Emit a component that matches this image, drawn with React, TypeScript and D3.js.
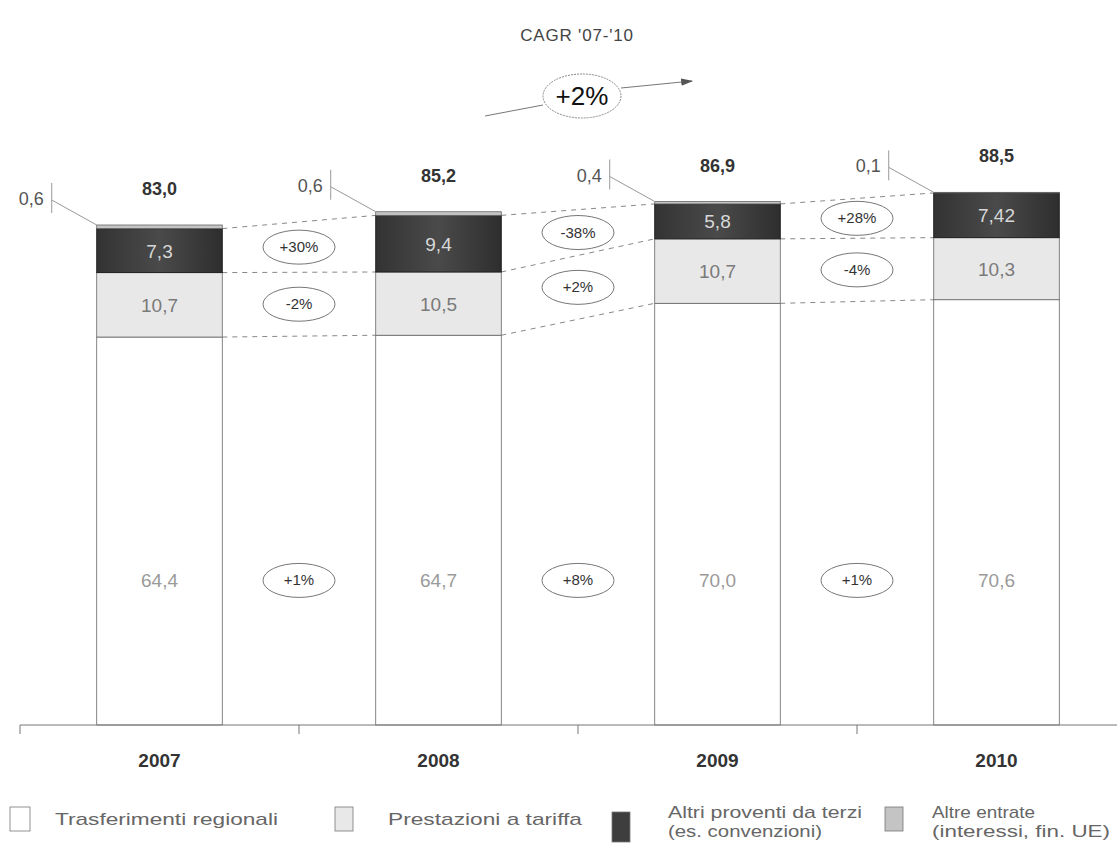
import * as d3 from 'd3'

// ─── Data ────────────────────────────────────────────────────────────────────

const years = ['2007', '2008', '2009', '2010']
const trasferimenti = [64.4, 64.7, 70.0, 70.6]
const prestazioni = [10.7, 10.5, 10.7, 10.3]
const altriProventi = [7.3, 9.4, 5.8, 7.42]
const altreEntrate = [0.6, 0.6, 0.4, 0.1]
const totals = ['83,0', '85,2', '86,9', '88,5']

const growthAltri = ['+30%', '-38%', '+28%']
const growthPrest = ['-2%', '+2%', '-4%']
const growthTrasf = ['+1%', '+8%', '+1%']

const cagrTitle = "CAGR '07-'10"
const cagrValue = '+2%'

const legendLabels = [
  ['Trasferimenti regionali'],
  ['Prestazioni a tariffa'],
  ['Altri proventi da terzi', '(es. convenzioni)'],
  ['Altre entrate', '(interessi, fin. UE)'],
]

// ─── Layout / style ──────────────────────────────────────────────────────────

const W = 1117
const H = 850
const baseY = 725
const font = '"Liberation Sans", Arial, sans-serif'

const segColors = ['#ffffff', '#e8e8e8', '#3e3e3e', '#c4c4c4']
const segText = ['#9a9a9a', '#7a7a7a', '#d8d8d8', '#000']

// legend box x, text x, and stretched text widths (scan looks wide)
const legendBoxX = [10, 335, 612, 885]
const legendTextX = [55, 388, 668, 932]
const legendWidths = [[223], [194], [194, 154], [103, 178]]

const fmt = (v: number) => {
  const oneDec = Math.abs(Math.round(v * 10) - v * 10) < 1e-9
  return (oneDec ? v.toFixed(1) : v.toFixed(2)).replace('.', ',')
}

export default function App() {
  const x = d3.scaleBand().domain(years).range([20, 1136]).paddingInner(0.55).paddingOuter(0.275)
  const y = d3.scaleLinear().domain([0, 83]).range([baseY, 225])
  const bw = x.bandwidth()
  const step = x.step()

  const series = [trasferimenti, prestazioni, altriProventi, altreEntrate]
  const stacked = years.map((_, i) => {
    let acc = 0
    return series.map((s) => {
      const y0 = acc
      acc += s[i]
      return { y0, y1: acc, v: s[i] }
    })
  })

  const gapX = (i: number) => x(years[i])! + bw + (step - bw) / 2
  const ellipseRows = [
    { labels: growthTrasf, seg: 0, fixed: true },
    { labels: growthPrest, seg: 1, fixed: false },
    { labels: growthAltri, seg: 2, fixed: false },
  ]

  const midOf = (i: number, s: number) =>
    s === 0 ? y(24) : (y(stacked[i][s].y0) + y(stacked[i][s].y1)) / 2

  return (
    <svg
      width={W}
      height={H}
      viewBox={`0 0 ${W} ${H}`}
      style={{ position: 'absolute', left: 0, top: 0, display: 'block', background: '#fff' }}
      fontFamily={font}
    >
      <defs>
        <marker id="arrow" viewBox="0 0 10 10" refX="9" refY="5" markerWidth="12" markerHeight="12" orient="auto">
          <path d="M0,2 L10,5 L0,8 z" fill="#555" />
        </marker>
        <linearGradient id="darkGrad" x1="0" x2="1" y1="0" y2="0">
          <stop offset="0" stopColor="#333" />
          <stop offset="0.5" stopColor="#4a4a4a" />
          <stop offset="1" stopColor="#2e2e2e" />
        </linearGradient>
      </defs>

      {/* CAGR header */}
      <text x={577} y={41} textAnchor="middle" fontSize={17} fill="#444" letterSpacing={0.8}>
        {cagrTitle}
      </text>
      <line x1={485} y1={116} x2={543} y2={105} stroke="#777" strokeWidth={1} />
      <line x1={621} y1={88} x2={692} y2={81} stroke="#777" strokeWidth={1} markerEnd="url(#arrow)" />
      <ellipse cx={582} cy={96} rx={39} ry={22} fill="none" stroke="#888" strokeWidth={1} strokeDasharray="2,1" />
      <text x={582} y={105} textAnchor="middle" fontSize={26} fill="#111">
        {cagrValue}
      </text>

      {/* dashed connectors between bars */}
      {years.slice(0, -1).map((yr, i) =>
        [0, 1, 2].map((s) => (
          <line
            key={`c-${yr}-${s}`}
            x1={x(yr)! + bw}
            y1={y(stacked[i][s].y1)}
            x2={x(years[i + 1])!}
            y2={y(stacked[i + 1][s].y1)}
            stroke="#888"
            strokeWidth={1}
            strokeDasharray="5,5"
          />
        )),
      )}

      {/* bars */}
      {years.map((yr, i) => (
        <g key={yr}>
          {stacked[i].map((d, s) => (
            <rect
              key={s}
              x={x(yr)!}
              y={y(d.y1)}
              width={bw}
              height={y(d.y0) - y(d.y1)}
              fill={s === 2 ? 'url(#darkGrad)' : segColors[s]}
              stroke={s === 2 ? '#222' : '#666'}
              strokeWidth={s === 2 ? 1 : 0.8}
            />
          ))}
          {[0, 1, 2].map((s) => (
            <text
              key={`t${s}`}
              x={x(yr)! + bw / 2}
              y={midOf(i, s) + 7}
              textAnchor="middle"
              fontSize={19}
              fill={segText[s]}
            >
              {fmt(stacked[i][s].v)}
            </text>
          ))}
          <text
            x={x(yr)! + bw / 2}
            y={y(stacked[i][3].y1) - 30}
            textAnchor="middle"
            fontSize={18}
            fontWeight="bold"
            fill="#333"
          >
            {totals[i]}
          </text>
          {/* altre entrate callout */}
          <line
            x1={x(yr)! - 45}
            y1={y(stacked[i][3].y1) - 42}
            x2={x(yr)! - 45}
            y2={y(stacked[i][3].y1) - 12}
            stroke="#999"
            strokeWidth={1}
          />
          <line
            x1={x(yr)! - 45}
            y1={y(stacked[i][3].y1) - 25}
            x2={x(yr)!}
            y2={y(stacked[i][3].y1)}
            stroke="#999"
            strokeWidth={1}
          />
          <text
            x={x(yr)! - 53}
            y={y(stacked[i][3].y1) - 20}
            textAnchor="end"
            fontSize={18}
            fill="#555"
          >
            {fmt(altreEntrate[i])}
          </text>
        </g>
      ))}

      {/* growth ellipses */}
      {ellipseRows.map((row) =>
        row.labels.map((lab, i) => {
          const cy = row.fixed ? y(24) : (midOf(i, row.seg) + midOf(i + 1, row.seg)) / 2
          return (
            <g key={`e-${row.seg}-${i}`}>
              <ellipse cx={gapX(i)} cy={cy} rx={36} ry={17} fill="#fff" stroke="#777" strokeWidth={1} />
              <text x={gapX(i)} y={cy + 5} textAnchor="middle" fontSize={15} fill="#333">
                {lab}
              </text>
            </g>
          )
        }),
      )}

      {/* axis */}
      <line x1={20} y1={baseY} x2={W} y2={baseY} stroke="#777" strokeWidth={1} />
      {[20, ...years.slice(0, -1).map((_, i) => gapX(i))].map((tx, i) => (
        <line key={`tk${i}`} x1={tx} y1={baseY} x2={tx} y2={baseY + 9} stroke="#777" strokeWidth={1} />
      ))}
      {years.map((yr) => (
        <text
          key={`yl${yr}`}
          x={x(yr)! + bw / 2}
          y={767}
          textAnchor="middle"
          fontSize={19}
          fontWeight="bold"
          fill="#333"
        >
          {yr}
        </text>
      ))}

      {/* legend */}
      {legendLabels.map((lines, i) => (
        <g key={`lg${i}`}>
          <rect
            x={legendBoxX[i]}
            y={i === 2 ? 812 : 807}
            width={i === 0 ? 20 : 18}
            height={i === 2 ? 30 : 24}
            fill={segColors[i]}
            stroke="#777"
            strokeWidth={0.8}
          />
          {lines.map((ln, j) => (
            <text
              key={j}
              x={legendTextX[i]}
              y={lines.length === 1 ? 825 : 818 + j * 19}
              fontSize={17}
              fill="#666"
              textLength={legendWidths[i][j]}
              lengthAdjust="spacingAndGlyphs"
            >
              {ln}
            </text>
          ))}
        </g>
      ))}
    </svg>
  )
}
